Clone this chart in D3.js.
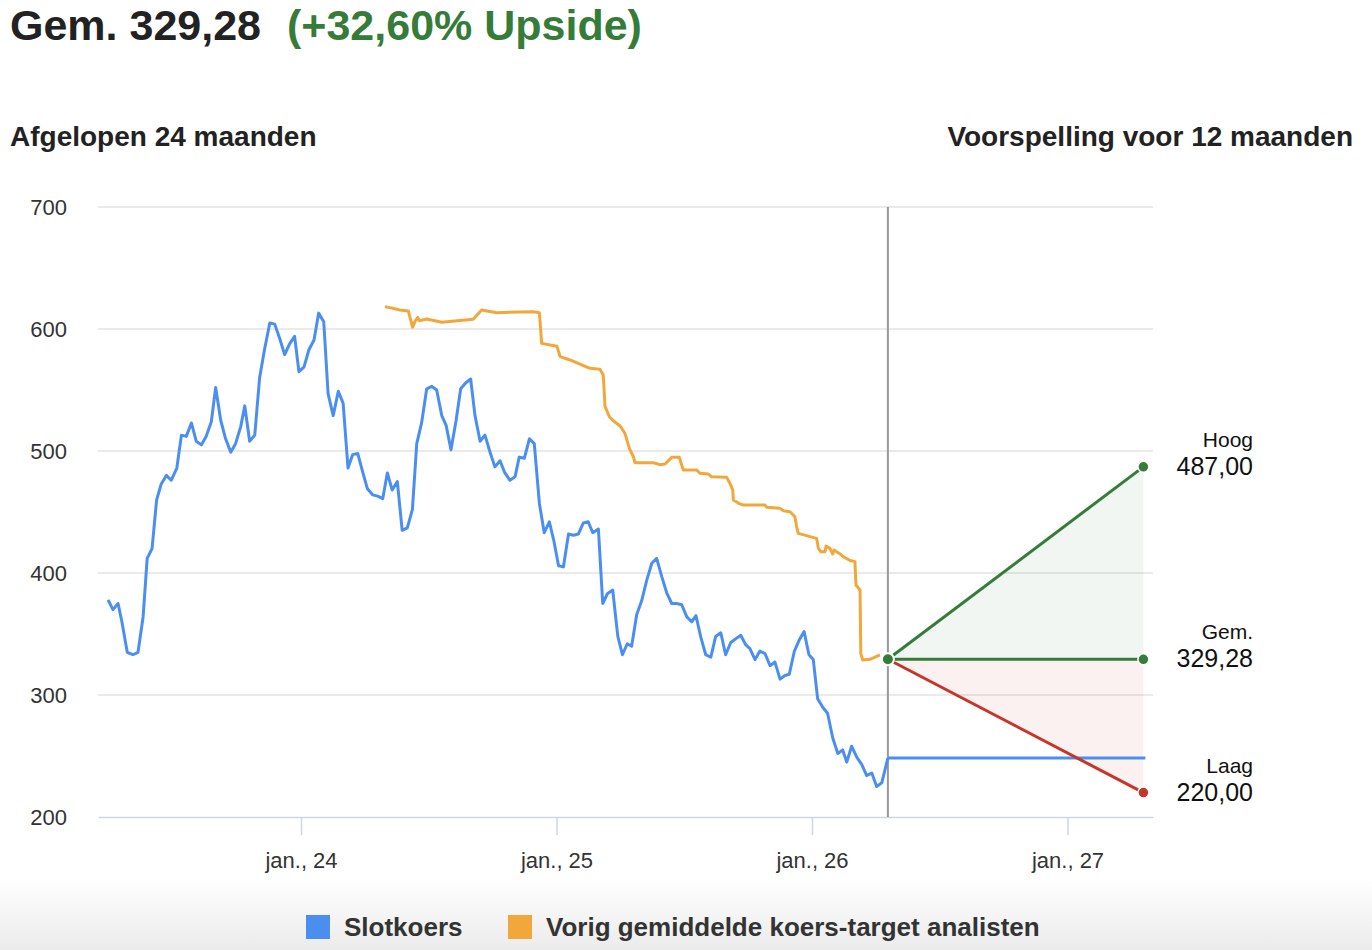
<!DOCTYPE html>
<html>
<head>
<meta charset="utf-8">
<script src="https://cdn.jsdelivr.net/npm/d3@7/dist/d3.min.js"></script>
<style>
  html, body { margin: 0; padding: 0; background: #fff; }
  svg { display: block; font-family: "Liberation Sans", Arial, Helvetica, sans-serif; }
</style>
</head>
<body>
<svg id="chart" width="1372" height="950"></svg>
<script>
// ---------- DATA (time in decimal years) ----------
const closeTimes = [2023.245,2023.264,2023.284,2023.299,2023.320,2023.342,2023.362,2023.382,2023.398,2023.417,
  2023.435,2023.453,2023.473,2023.492,2023.514,2023.532,2023.551,2023.571,2023.590,2023.610,
  2023.629,2023.649,2023.666,2023.686,2023.705,2023.725,2023.744,2023.764,2023.780,2023.799,
  2023.819,2023.838,2023.858,2023.878,2023.897,2023.917,2023.936,2023.956,2023.975,2023.992,
  2024.012,2024.031,2024.051,2024.069,2024.089,2024.106,2024.126,2024.146,2024.165,2024.184,
  2024.202,2024.222,2024.241,2024.260,2024.281,2024.300,2024.320,2024.338,2024.357,2024.377,
  2024.396,2024.416,2024.436,2024.453,2024.472,2024.492,2024.512,2024.531,2024.551,2024.568,
  2024.587,2024.607,2024.625,2024.645,2024.664,2024.681,2024.701,2024.720,2024.740,2024.759,
  2024.779,2024.798,2024.818,2024.838,2024.854,2024.874,2024.894,2024.913,2024.933,2024.952,
  2024.972,2024.990,2025.008,2025.027,2025.047,2025.067,2025.086,2025.105,2025.124,2025.142,
  2025.164,2025.181,2025.199,2025.220,2025.240,2025.258,2025.277,2025.294,2025.314,2025.333,
  2025.353,2025.373,2025.392,2025.412,2025.431,2025.451,2025.470,2025.490,2025.510,2025.529,
  2025.546,2025.564,2025.584,2025.604,2025.623,2025.643,2025.662,2025.682,2025.701,2025.721,
  2025.741,2025.757,2025.777,2025.796,2025.816,2025.836,2025.855,2025.875,2025.894,2025.911,
  2025.931,2025.950,2025.969,2025.988,2026.005,2026.022,2026.042,2026.061,2026.081,2026.101,
  2026.120,2026.136,2026.155,2026.175,2026.195,2026.214,2026.234,2026.253,2026.273,2026.297];
const closeValues = [378,370,375,360,335,333,335,364,412,420,
  460,473,480,476,486,513,512,523,508,505,
  512,524,552,525,510,499,506,520,537,508,
  513,560,584,605,604,592,579,588,594,565,
  569,583,591,613,606,547,529,549,539,486,
  497,498,483,469,464,463,461,482,468,475,
  435,437,452,506,523,551,553,550,529,521,
  501,525,551,556,559,529,508,513,499,487,
  492,482,476,479,495,494,510,506,457,433,
  442,426,406,405,432,431,432,441,442,433,
  436,375,383,386,348,333,342,340,366,377,
  394,408,412,397,384,375,375,374,364,360,
  365,348,333,331,348,351,333,343,346,349,
  341,338,329,336,334,324,327,313,316,317,
  336,345,352,333,329,297,290,285,265,252,
  255,245,258,249,243,234,236,225,228,248.33];

const targetTimes = [2024.329,2024.348,2024.387,2024.420,2024.437,2024.446,2024.457,2024.463,2024.492,2024.551,
  2024.674,2024.707,2024.766,2024.909,2024.933,2024.942,2024.975,2025.002,2025.014,2025.053,
  2025.131,2025.170,2025.183,2025.190,2025.207,2025.222,2025.249,2025.268,2025.285,2025.301,
  2025.307,2025.379,2025.405,2025.425,2025.451,2025.481,2025.496,2025.549,2025.562,2025.594,
  2025.607,2025.666,2025.679,2025.690,2025.692,2025.718,2025.731,2025.816,2025.823,2025.875,
  2025.888,2025.914,2025.933,2025.940,2025.946,2026.018,2026.025,2026.034,2026.051,2026.055,
  2026.070,2026.081,2026.086,2026.110,2026.122,2026.149,2026.168,2026.172,2026.188,2026.191,
  2026.198,2026.227,2026.266];
const targetValues = [618.3,617.5,615.6,614.8,601.4,606,609.6,606.8,608.2,605.5,
  608,615.6,613.4,614.2,613.4,588.2,586.9,585.8,577.3,574.6,
  567.8,567,562.3,536.3,528.1,524.8,520.5,514.5,502.2,495.3,
  490.4,490.4,488.8,489.3,494.8,494.8,484.4,484.4,481.7,481.1,
  478.9,478.4,473.4,468,459.8,456.6,455.7,455.7,453.8,453,
  451,450.2,446.1,437.9,432.5,428.4,420.2,417.5,417.5,422.1,
  420.2,415.6,418.9,415.6,413.4,410.2,409.3,390.2,386.1,334.2,
  328.7,329.3,332.8];

const forecastStart = 2026.297;
const forecastEnd = 2027.297;
const lastClose = 248.33;
const forecastNames = ["Hoog", "Gem.", "Laag"];
const forecastValues = [487.00, 329.28, 220.00];
const forecastLabels = ["487,00", "329,28", "220,00"];

const yTicks = [200, 300, 400, 500, 600, 700];
const xTicks = [2024, 2025, 2026, 2027];
const xTickLabels = ["jan., 24", "jan., 25", "jan., 26", "jan., 27"];
const xDomain = [2023.2055, 2027.3346];

const headline = "Gem. 329,28";
const headlineUpside = "(+32,60% Upside)";
const leftTitle = "Afgelopen 24 maanden";
const rightTitle = "Voorspelling voor 12 maanden";
const legendNames = ["Slotkoers", "Vorig gemiddelde koers-target analisten"];

// ---------- STYLE ----------
const BLUE = "#4a8ff0", ORANGE = "#f2a73b", GREEN = "#367c39", RED = "#c8342a";
const svg = d3.select("#chart");
const W = 1372, H = 950;
const plot = { left: 98, right: 1153, top: 207, bottom: 817 };

const x = d3.scaleLinear().domain(xDomain).range([plot.left, plot.right]);
const y = d3.scaleLinear().domain([200, 700]).range([plot.bottom, plot.top]);

// bottom gradient
const defs = svg.append("defs");
const grad = defs.append("linearGradient").attr("id", "bg").attr("x1", 0).attr("x2", 0).attr("y1", 0).attr("y2", 1);
grad.append("stop").attr("offset", "0%").attr("stop-color", "#ffffff");
grad.append("stop").attr("offset", "100%").attr("stop-color", "#ebebeb");
svg.append("rect").attr("x", 0).attr("y", 878).attr("width", W).attr("height", H - 878).attr("fill", "url(#bg)");

// headline
const head = svg.append("text").attr("x", 10).attr("y", 40)
  .attr("font-size", 43).attr("font-weight", "bold").attr("fill", "#222");
head.append("tspan").text(headline);
head.append("tspan").attr("dx", 26).attr("fill", GREEN).text(headlineUpside);

svg.append("text").attr("x", 10).attr("y", 146).attr("font-size", 28).attr("font-weight", 600)
  .attr("fill", "#222").text(leftTitle);
svg.append("text").attr("x", 1353).attr("y", 146).attr("font-size", 28).attr("font-weight", 600)
  .attr("text-anchor", "end").attr("fill", "#222").text(rightTitle);

// grid
svg.append("g").selectAll("line").data(yTicks.filter(d => d !== 200)).join("line")
  .attr("x1", plot.left).attr("x2", plot.right)
  .attr("y1", d => y(d)).attr("y2", d => y(d))
  .attr("stroke", "#e3e3e3").attr("stroke-width", 1.5);

// y labels
svg.append("g").selectAll("text").data(yTicks).join("text")
  .attr("x", 67).attr("y", d => y(d)).attr("dy", "0.36em")
  .attr("text-anchor", "end").attr("font-size", 22).attr("fill", "#333")
  .text(d => d);

// x axis
const xAxis = d3.axisBottom(x).tickValues(xTicks)
  .tickFormat((d, i) => xTickLabels[i]).tickSize(18).tickPadding(17).tickSizeOuter(0);
const gx = svg.append("g").attr("transform", `translate(0,${plot.bottom})`).call(xAxis);
gx.select(".domain").attr("stroke", "#ccd6eb").attr("stroke-width", 1.5);
gx.selectAll(".tick line").attr("stroke", "#ccd6eb").attr("stroke-width", 1.5);
gx.selectAll(".tick text").attr("font-size", 22).attr("fill", "#333")
  .attr("font-family", "Liberation Sans, Arial, sans-serif");

// forecast fills
const sx = x(forecastStart), ex = x(forecastEnd);
const yAvg = y(forecastValues[1]);
svg.append("path").attr("d", `M${sx},${yAvg}L${ex},${y(forecastValues[0])}L${ex},${yAvg}Z`)
  .attr("fill", GREEN).attr("fill-opacity", 0.065);
svg.append("path").attr("d", `M${sx},${yAvg}L${ex},${yAvg}L${ex},${y(forecastValues[2])}Z`)
  .attr("fill", RED).attr("fill-opacity", 0.065);

// vertical now-line
svg.append("line").attr("x1", sx).attr("x2", sx).attr("y1", plot.top).attr("y2", plot.bottom)
  .attr("stroke", "#999").attr("stroke-width", 2);

const line = d3.line().x(d => x(d[0])).y(d => y(d[1]));

// close price
const closeData = d3.zip(closeTimes, closeValues);
svg.append("path").datum(closeData).attr("d", line).attr("fill", "none")
  .attr("stroke", BLUE).attr("stroke-width", 3).attr("stroke-linejoin", "round");
svg.append("path").datum([[forecastStart, lastClose], [forecastEnd + 0.008, lastClose]]).attr("d", line)
  .attr("fill", "none").attr("stroke", BLUE).attr("stroke-width", 3);

// target
const targetData = d3.zip(targetTimes, targetValues);
svg.append("path").datum(targetData).attr("d", line).attr("fill", "none")
  .attr("stroke", ORANGE).attr("stroke-width", 3).attr("stroke-linejoin", "round");

// forecast lines
const fColors = [GREEN, GREEN, RED];
forecastValues.forEach((v, i) => {
  svg.append("path").datum([[forecastStart, forecastValues[1]], [forecastEnd, v]]).attr("d", line)
    .attr("fill", "none").attr("stroke", fColors[i]).attr("stroke-width", 3);
});
forecastValues.forEach((v, i) => {
  svg.append("circle").attr("cx", ex).attr("cy", y(v)).attr("r", 5.5)
    .attr("fill", fColors[i]).attr("stroke", "#fff").attr("stroke-width", 1.5);
});
svg.append("circle").attr("cx", sx).attr("cy", yAvg).attr("r", 6)
  .attr("fill", GREEN).attr("stroke", "#fff").attr("stroke-width", 2);

// forecast labels
forecastValues.forEach((v, i) => {
  svg.append("text").attr("x", 1253).attr("y", y(v) - 20).attr("text-anchor", "end")
    .attr("font-size", 21).attr("fill", "#111").text(forecastNames[i]);
  svg.append("text").attr("x", 1253).attr("y", y(v) + 8).attr("text-anchor", "end")
    .attr("font-size", 25).attr("fill", "#111").text(forecastLabels[i]);
});

// legend
const legend = svg.append("g");
const legX = [306, 508];
legendNames.forEach((n, i) => {
  legend.append("rect").attr("x", legX[i]).attr("y", 915).attr("width", 24).attr("height", 24)
    .attr("fill", i === 0 ? BLUE : ORANGE);
  legend.append("text").attr("x", legX[i] + 38).attr("y", 936).attr("font-size", 26)
    .attr("font-weight", "bold").attr("fill", "#333").text(n);
});
</script>
</body>
</html>
